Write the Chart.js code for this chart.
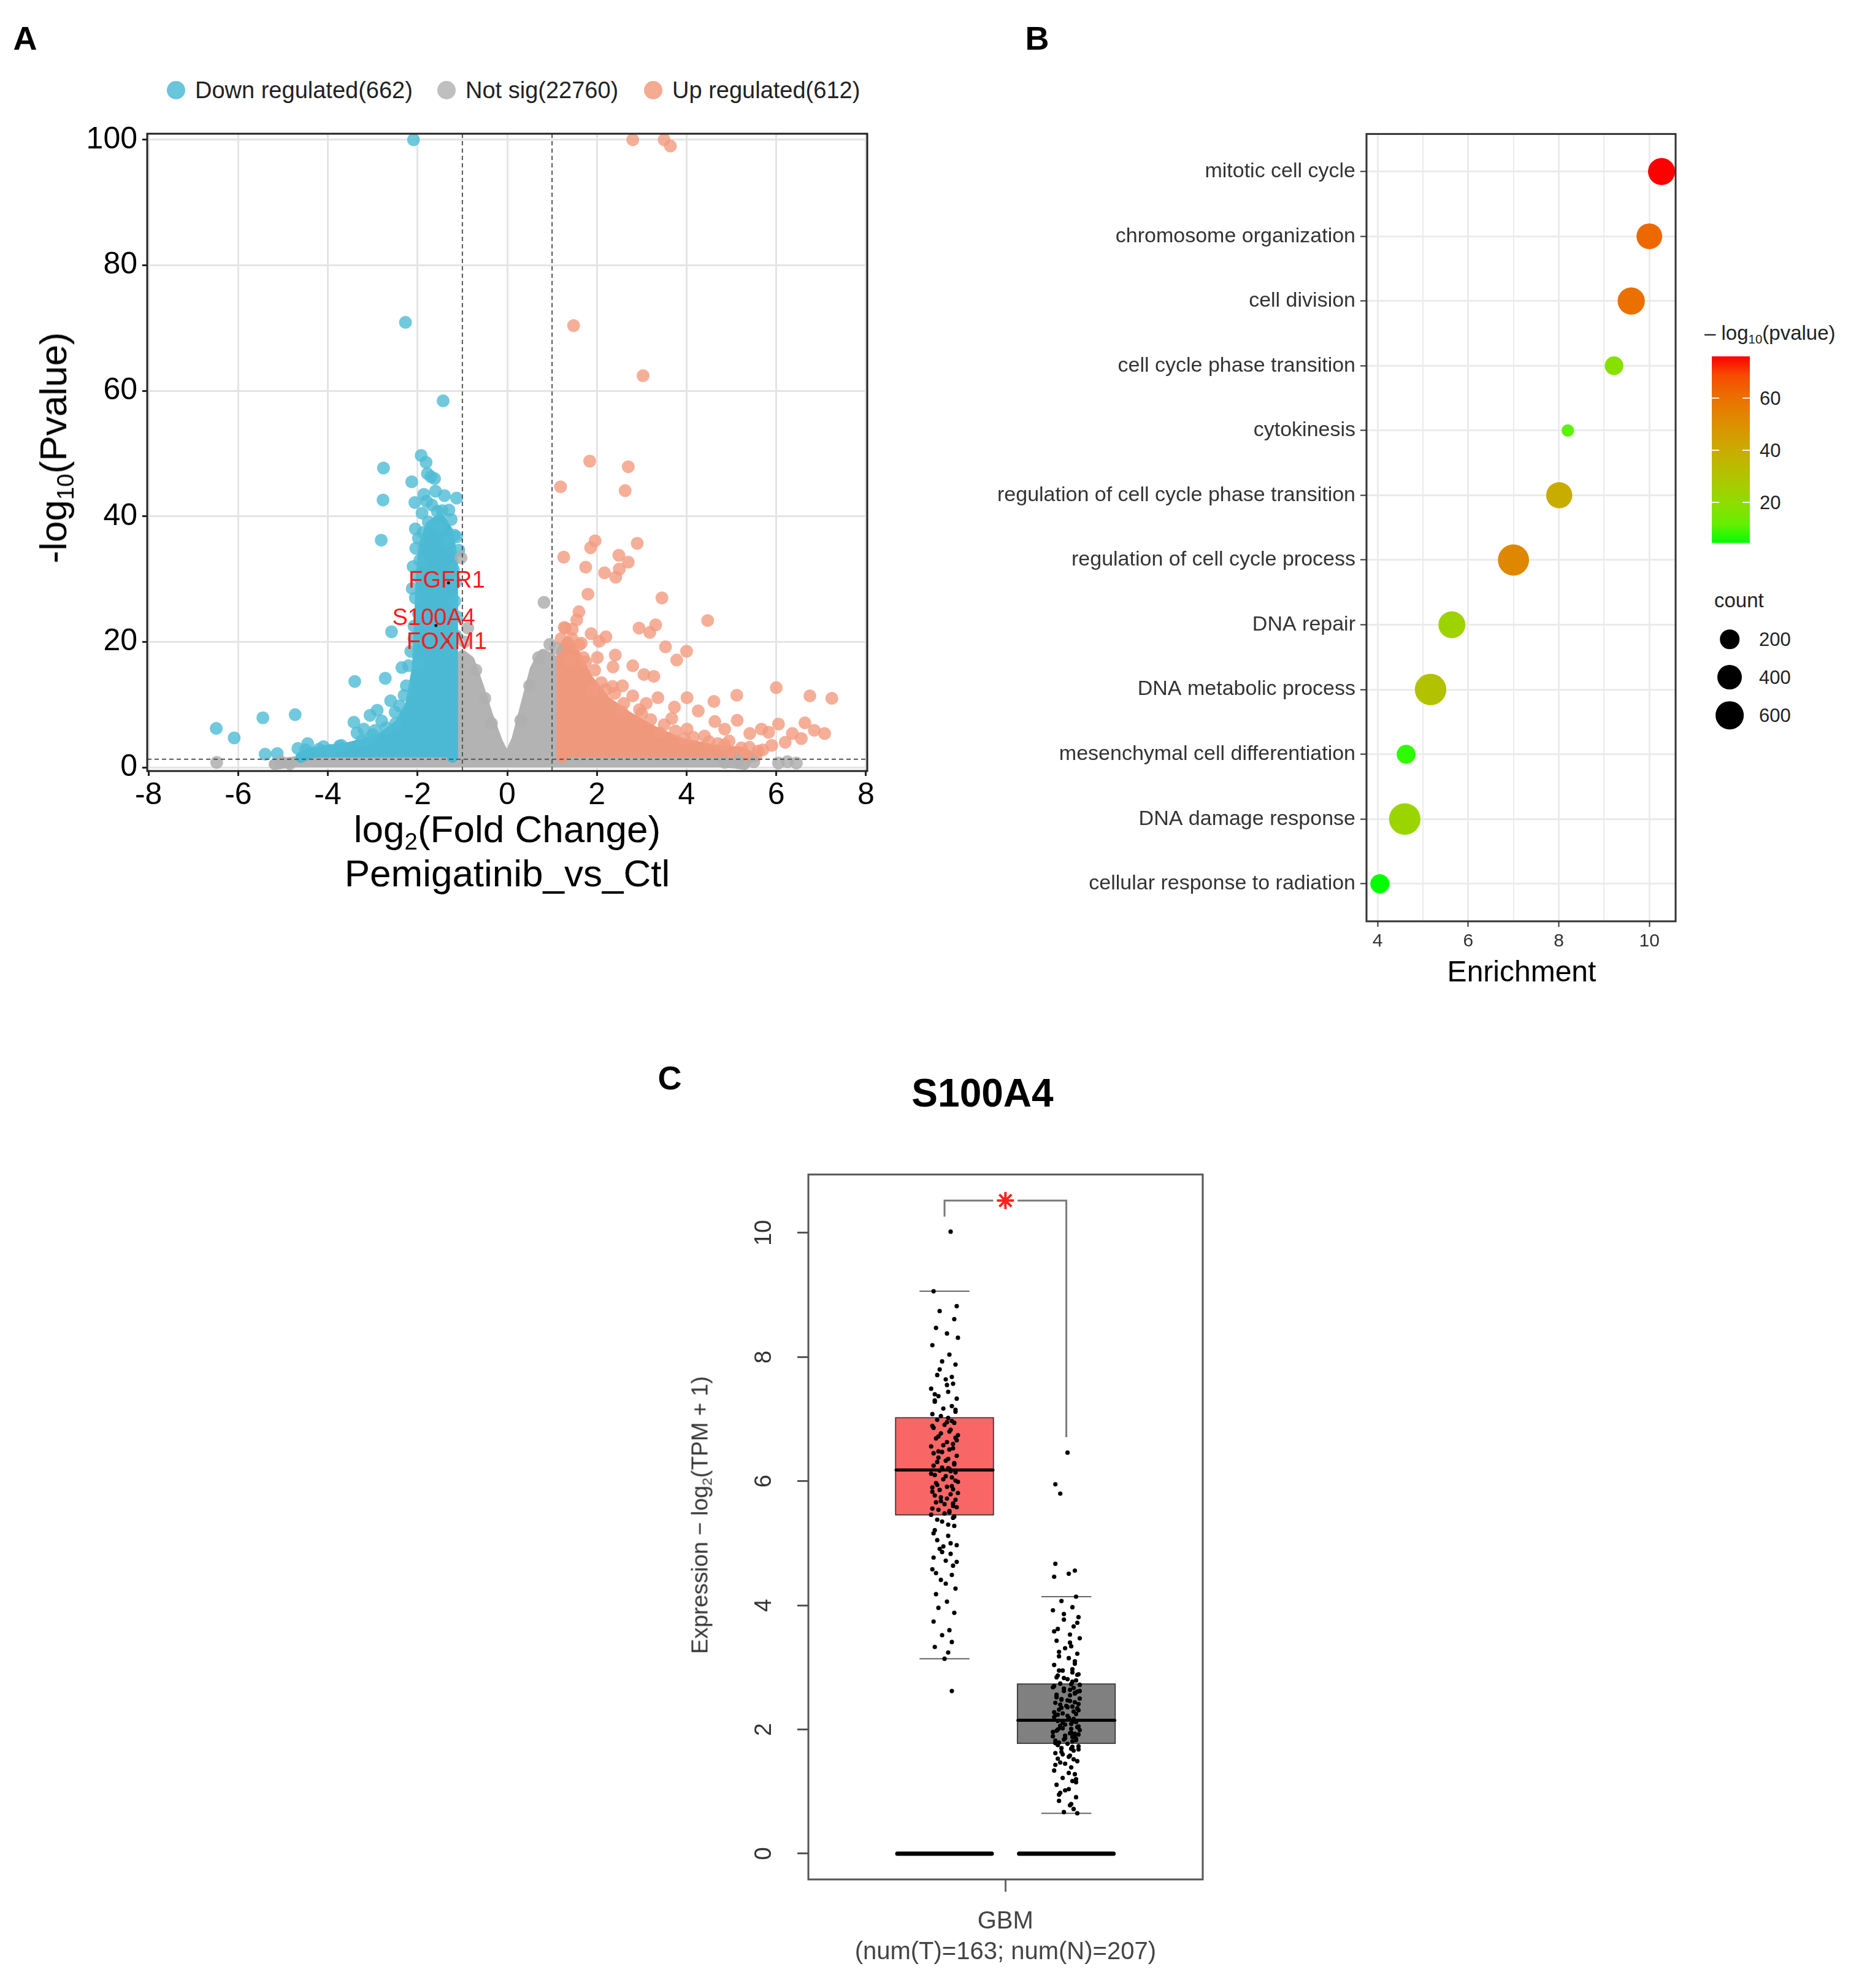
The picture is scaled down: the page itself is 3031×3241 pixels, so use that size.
<!DOCTYPE html>
<html>
<head>
<meta charset="utf-8">
<title>Pemigatinib figure</title>
<script src="https://cdn.jsdelivr.net/npm/chart.js@4.4.1/dist/chart.umd.min.js"></script>
<style>
  html, body { margin: 0; padding: 0; background: #fff; }
  body { position: relative; width: 3031px; height: 3241px; overflow: hidden;
         font-family: "Liberation Sans", Arial, sans-serif; color: #000; }
  .txt { position: absolute; white-space: nowrap; line-height: 1; }
  .mid { transform: translate(-50%, -50%); }
  .lft { transform: translate(0, -50%); }
  .rot { transform: translate(-50%, -50%) rotate(-90deg); }
  sub { font-size: 0.62em; vertical-align: -0.3em; line-height: 0; }
  canvas { position: absolute; }
  .swatch { position: absolute; border-radius: 50%; transform: translate(-50%, -50%); }
</style>
</head>
<body>
<script>
// ---- panel A: volcano plot ----
const xTicksA = [-8, -6, -4, -2, 0, 2, 4, 6, 8];
const yTicksA = [0, 20, 40, 60, 80, 100];
const fcCut = 1;
const pCut = 1.3;
const legendA = ['Down regulated(662)', 'Not sig(22760)', 'Up regulated(612)'];

// single points [log2FC, -log10 p]
const downPoints = [[-2.09,100],[-2.27,70.9],[-1.43,58.4],[-1.92,49.7],[-1.81,48.6],[-2.76,47.7],[-1.78,46.8],
  [-1.70,46.3],[-1.62,46.0],[-2.13,45.5],[-2.77,42.6],[-2.06,42.2],[-1.80,42.4],[-1.40,43.3],[-1.13,42.9],
  [-1.56,40.8],[-1.76,39.1],[-2.81,36.2],[-2.04,34.9],[-1.13,36.7],[-1.08,34.6],[-1.95,33.0],[-2.02,30.5],
  [-1.15,29.5],[-2.05,27.0],[-1.98,24.5],[-1.12,24.0],[-2.58,21.6],[-2.08,20.5],[-1.99,16.5],[-2.35,15.9],
  [-2.72,14.2],[-3.40,13.7],[-2.25,13.0],[-2.60,10.6],[-2.90,9.1],[-3.06,8.3],[-2.49,7.0],[-3.42,7.2],
  [-3.35,5.5],[-3.10,4.5],[-2.95,5.9],[-5.45,7.9],[-4.73,8.4],[-6.49,6.2],[-6.09,4.7],[-5.40,2.1],
  [-5.13,2.2],[-4.67,3.0],[-4.45,3.8],[-4.20,2.9],[-3.74,3.4],[-3.95,2.7],
  [-2.05,38.0],[-1.98,36.5],[-2.10,32.0],[-2.12,28.5],[-2.08,22.5],[-2.15,18.5],[-2.30,11.5],[-2.50,8.8],
  [-2.70,6.3],[-3.00,5.2],[-3.25,4.2],[-3.70,3.5],[-4.10,3.3],[-4.50,2.8],[-1.90,40.5],[-1.68,41.8],
  [-1.45,40.9],[-1.25,39.5],[-1.18,37.0],[-1.30,41.0],[-1.60,44.0],[-1.86,43.5],[-1.52,38.2],[-1.88,37.4],
  [-1.35,36.0],[-1.20,31.5],[-1.17,26.5],[-1.15,21.0],[-2.20,16.2],[-2.40,9.8],[-2.80,7.4],[-3.20,6.1]];
const upPoints = [[2.80,100],[3.50,100],[3.64,99.0],[1.48,70.4],[3.03,62.4],[1.84,48.8],[2.70,47.9],[1.19,44.7],
  [2.63,44.1],[1.96,36.1],[1.86,35.0],[2.90,35.7],[1.26,33.5],[2.49,33.8],[2.70,32.7],[1.75,31.9],[2.50,31.6],
  [2.17,31.0],[2.42,30.3],[1.80,27.6],[3.45,27.0],[1.60,24.8],[1.55,23.5],[4.47,23.4],[1.27,22.3],[1.45,22.0],
  [2.94,22.2],[3.31,22.7],[3.18,21.5],[1.87,21.3],[2.20,20.8],[2.05,20.1],[1.65,19.8],[3.53,19.2],[4.00,18.5],
  [3.78,17.1],[2.41,17.9],[2.01,17.5],[1.75,16.8],[2.80,16.2],[2.36,16.0],[3.27,14.5],[3.05,14.8],[2.57,13.0],
  [2.20,12.4],[2.80,11.4],[6.00,12.7],[6.75,11.4],[7.24,11.0],[5.12,11.5],[4.61,10.5],[4.01,11.1],[4.26,9.0],
  [3.73,9.6],[3.36,11.1],[3.10,10.2],[3.67,7.8],[4.63,7.3],[5.13,7.5],[6.05,6.9],[6.64,7.1],[6.85,5.9],
  [7.08,5.4],[6.36,5.4],[6.56,4.6],[5.83,5.6],[5.67,6.1],[5.41,5.4],[4.01,6.1],[4.85,6.1],[4.40,5.0],
  [4.95,4.2],[5.22,3.1],[5.32,1.9],[5.60,2.6],[4.70,3.8],[3.95,4.6],[3.40,5.5],[5.90,3.5],[6.20,4.0],[5.05,2.2],
  [1.30,22.2],[1.20,20.5],[1.45,20.5],[1.60,19.5],[1.70,17.5],[1.95,15.5],[2.10,13.5],[2.40,11.8],[2.60,10.2],
  [2.95,9.2],[3.20,7.6],[3.50,6.8],[3.75,5.8],[4.15,4.8],[4.50,4.1],[4.85,3.6],[5.40,3.2],[5.70,2.8],[5.55,1.9],
  [3.00,8.6],[2.35,12.9],[1.40,17.0],[1.90,12.2],[2.55,8.9]];
const nsPoints = [[-1.03,33.4],[-0.88,22.2],[0.82,26.3],[-6.48,0.8],[-5.05,0.9],[-4.85,0.6],[5.50,0.9],
  [4.85,0.8],[6.05,0.7],[6.25,0.9],[6.45,0.7],[5.15,1.1],
  [-0.95,20.0],[-0.70,15.5],[-0.50,11.0],[-0.35,7.0],[0.30,7.5],[0.50,13.0],[0.70,17.5],[0.95,19.6],[1.08,19.0]];

// outlines of the dense, fully overplotted clouds
const downCloud = [[-4.6,1.6],[-4.4,2.3],[-3.5,3.2],[-2.85,4.4],[-2.4,6.8],[-2.15,10],[-2.0,16],[-1.95,24],
  [-1.92,30],[-1.85,35.5],[-1.7,38.5],[-1.5,39.5],[-1.32,37.5],[-1.22,33],[-1.22,1.6]];
const upCloud = [[1.22,1.6],[1.22,18.5],[1.35,20],[1.55,17.5],[1.8,14],[2.2,10.5],[2.7,8],[3.3,5.6],
  [3.9,3.8],[4.6,2.8],[5.2,2.4],[5.45,1.6]];
const nsCloud = [[-5.2,0.5],[-4.6,1.0],[-3,1.2],[-1.2,1.3],[-1.15,15.5],[-1.0,17.8],[-0.85,17.0],[-0.65,13.0],
  [-0.45,8.5],[-0.22,4.0],[0.0,0.9],[0.22,4.5],[0.42,10.0],[0.62,15.5],[0.80,18.0],[1.0,17.2],[1.15,15.0],
  [1.2,1.3],[3,1.2],[4.7,1.0],[5.3,0.5]];

const geneNames = ['FGFR1', 'S100A4', 'FOXM1'];
const geneFC = [-1.31, -1.59, -1.33];
const geneP = [29.4, 22.6, 20.1];
const geneLabelFC = [-1.35, -1.64, -1.35];
const geneLabelP = [29.7, 23.7, 19.9];

// ---- panel B: GO enrichment ----
const goTerms = ['mitotic cell cycle', 'chromosome organization', 'cell division', 'cell cycle phase transition',
  'cytokinesis', 'regulation of cell cycle phase transition', 'regulation of cell cycle process', 'DNA repair',
  'DNA metabolic process', 'mesenchymal cell differentiation', 'DNA damage response', 'cellular response to radiation'];
const enrichment = [10.27, 10.0, 9.60, 9.22, 8.20, 8.01, 7.00, 5.64, 5.17, 4.63, 4.60, 4.05];
const geneCount = [541, 464, 548, 182, 105, 485, 817, 534, 845, 188, 845, 192];
const negLog10P = [76, 62, 60, 18, 10, 40, 53, 24, 31, 6, 23, 4.5];
const xTicksB = [4, 5, 6, 7, 8, 9, 10];
const colourTicks = [20, 40, 60];
const countTicks = [200, 400, 600];

// ---- panel C: S100A4 box plot ----
const boxGroups = ['Tumor', 'Normal'];
const boxQ1 = [5.45, 1.77];
const boxMedian = [6.18, 2.15];
const boxQ3 = [7.03, 2.74];
const whiskerLow = [3.14, 0.65];
const whiskerHigh = [9.06, 4.14];
const yTicksC = [0, 2, 4, 6, 8, 10];
const xLabelC = ['GBM', '(num(T)=163; num(N)=207)'];
const bracketTop = 10.52, bracketLeftEnd = 10.26, bracketRightEnd = 6.71;
const tumorExpr = [10.02,2.62,9.06,3.14,8.82,8.74,8.61,8.47,8.38,8.31,8.19,8.04,7.93,7.88,7.71,7.64,7.57,7.49,
  7.44,7.37,7.33,7.28,7.21,7.17,7.12,7.08,7.02,6.99,6.94,6.91,6.86,6.83,6.77,6.74,6.69,6.63,6.60,6.56,6.51,6.47,
  6.41,6.38,6.33,6.29,6.25,6.21,6.17,6.14,6.10,6.06,6.03,5.99,5.94,5.91,5.87,5.83,5.79,5.74,5.70,5.66,5.63,5.58,
  5.54,5.50,5.46,5.41,5.35,5.28,5.21,5.12,5.05,4.97,4.91,4.83,4.77,4.72,4.64,4.58,4.49,4.41,4.27,4.18,4.06,3.96,
  3.88,3.74,3.60,3.52,3.41,3.33,3.24,
  7.55,7.30,7.15,7.05,6.97,6.89,6.80,6.72,6.66,6.58,6.53,6.45,6.36,6.31,6.27,6.22,6.16,6.12,6.08,6.01,
  5.97,5.92,5.86,5.81,5.77,5.72,5.68,5.60,5.56,5.52,5.48,5.43,5.38,5.30,5.16,5.00,4.86,4.70,4.52,4.35,
  7.80,7.68,7.40,6.95,6.70,6.48,6.20,5.90,5.64,4.95];
const tumorJitter = [0.05,0.06,-0.09,0.0,0.10,-0.04,0.08,-0.07,0.02,0.11,-0.10,0.04,-0.02,0.09,-0.06,0.01,0.07,
  -0.11,0.03,-0.05,0.10,-0.08,0.06,-0.01,0.09,-0.10,0.03,-0.06,0.08,0.00,-0.09,0.05,-0.03,0.11,-0.07,0.02,0.07,
  -0.11,0.04,-0.02,0.10,-0.05,0.01,0.08,-0.09,0.03,-0.04,0.09,-0.08,0.06,-0.01,0.11,-0.06,0.02,0.07,-0.10,0.05,
  -0.03,0.09,-0.07,0.00,0.10,-0.05,0.04,-0.11,0.07,-0.02,0.08,-0.08,0.03,-0.06,0.10,-0.04,0.05,-0.09,0.01,0.07,
  -0.10,0.06,-0.03,0.09,-0.07,0.02,-0.05,0.08,-0.09,0.04,-0.02,0.06,-0.08,0.03,
  0.02,-0.08,0.09,-0.03,0.06,-0.10,0.04,-0.05,0.10,-0.01,0.07,-0.09,0.03,-0.06,0.08,-0.02,0.05,-0.11,0.01,0.09,
  -0.07,0.06,-0.04,0.11,-0.08,0.02,-0.03,0.07,-0.10,0.04,0.00,0.08,-0.06,0.03,-0.09,0.05,-0.02,0.10,-0.07,0.01,
  -0.04,0.06,-0.08,0.02,0.09,-0.05,0.04,-0.10,0.07,-0.01];
const normalExpr = [6.46,5.95,5.80,4.67,4.56,4.51,4.46,4.14,4.07,3.97,3.92,3.81,3.77,3.66,3.62,3.53,3.47,3.43,
  3.34,3.31,3.22,3.18,3.15,3.06,3.04,2.97,2.95,2.89,2.87,2.81,2.79,2.74,2.73,2.68,2.67,2.62,2.61,2.56,2.55,2.50,
  2.49,2.44,2.43,2.38,2.37,2.32,2.31,2.26,2.25,2.20,2.19,2.15,2.14,2.09,2.08,2.04,2.03,1.99,1.98,1.94,1.93,1.89,
  1.88,1.84,1.83,1.79,1.77,1.73,1.70,1.66,1.62,1.58,1.53,1.49,1.45,1.39,1.34,1.28,1.22,1.17,1.11,1.04,0.98,0.91,
  0.85,0.78,0.72,0.67,0.65,
  2.95,2.88,2.83,2.77,2.70,2.64,2.59,2.53,2.47,2.41,2.35,2.29,2.23,2.18,2.12,2.06,2.01,1.96,1.91,1.86,
  1.81,1.75,1.68,1.60,1.52,1.43,1.30,1.15,0.95,0.80,2.72,2.66,2.58,2.52,2.46,2.40,2.34,2.28,2.22,2.17,
  2.11,2.05,2.00,1.95,1.90,1.85,1.78,1.72,1.64,1.56,3.10,3.25,3.40,3.58,3.72,3.86,2.92,2.84,2.62,2.48,
  2.36,2.24,2.13,2.02,1.92,1.82,1.69,1.47,1.20,1.02];
const normalJitter = [0.01,-0.09,-0.05,-0.09,0.07,0.02,-0.10,0.08,-0.04,0.05,-0.11,0.10,-0.02,0.06,-0.07,0.03,
  0.11,-0.08,0.04,-0.01,0.09,-0.06,0.02,0.07,-0.10,0.05,-0.03,0.10,-0.07,0.01,0.08,-0.05,0.04,-0.11,0.06,-0.02,
  0.09,-0.08,0.03,0.11,-0.04,0.07,-0.09,0.00,0.05,-0.06,0.10,-0.03,0.08,-0.10,0.02,0.06,-0.07,0.04,-0.01,0.09,
  -0.05,0.11,-0.08,0.03,0.07,-0.11,0.05,-0.02,0.08,-0.06,0.01,0.10,-0.04,0.06,-0.09,0.03,-0.07,0.09,-0.01,0.04,
  -0.10,0.07,-0.03,0.05,-0.08,0.02,-0.05,0.08,-0.06,0.03,0.06,-0.02,0.09,
  -0.06,0.09,-0.02,0.05,-0.10,0.03,0.07,-0.08,0.01,0.10,-0.04,0.06,-0.09,0.02,0.08,-0.05,0.04,-0.11,0.07,-0.01,
  0.05,-0.07,0.10,-0.03,0.06,-0.09,0.02,0.08,-0.06,0.04,0.11,-0.02,0.07,-0.08,0.03,-0.05,0.09,-0.10,0.01,0.06,
  -0.03,0.10,-0.07,0.04,-0.01,0.08,-0.09,0.05,-0.04,0.02,0.07,-0.06,0.03,-0.10,0.09,-0.02,0.05,-0.08,0.11,-0.04,
  0.01,-0.07,0.06,-0.03,0.10,-0.09,0.04,-0.05,0.08,-0.01];

// ---- helpers ----
Chart.defaults.font.family = '"Liberation Sans", Arial, sans-serif';
const FONT = '"Liberation Sans", Arial, sans-serif';

function canvasAt(left, top, w, h) {
  const c = document.createElement('canvas');
  c.width = w; c.height = h;
  c.style.left = left + 'px'; c.style.top = top + 'px';
  c.style.width = w + 'px'; c.style.height = h + 'px';
  document.body.appendChild(c);
  return c;
}
function text(html, x, y, cls, css) {
  const d = document.createElement('div');
  d.className = 'txt ' + cls;
  d.innerHTML = html;
  d.style.left = x + 'px'; d.style.top = y + 'px';
  Object.assign(d.style, css || {});
  document.body.appendChild(d);
  return d;
}
function swatch(x, y, r, color) {
  const d = document.createElement('div');
  d.className = 'swatch';
  Object.assign(d.style, { left: x + 'px', top: y + 'px', width: 2 * r + 'px', height: 2 * r + 'px', background: color });
  document.body.appendChild(d);
}
const pts = arr => arr.map(p => ({ x: p[0], y: p[1] }));

const framePlugin = {
  id: 'frame',
  afterDatasetsDraw(chart, args, opts) {
    const a = chart.chartArea, ctx = chart.ctx;
    ctx.save();
    ctx.strokeStyle = opts.color || '#000';
    ctx.lineWidth = opts.width || 2;
    ctx.strokeRect(a.left, a.top, a.right - a.left, a.bottom - a.top);
    ctx.restore();
  }
};

// ================= A =================
const blueDot = 'rgba(77,187,213,0.8)', blueDense = 'rgb(76,185,212)';
const salmonDot = 'rgba(243,155,127,0.8)', salmonDense = 'rgb(240,152,124)';
const greyDot = 'rgba(175,175,175,0.85)', greyDense = 'rgb(179,179,179)';

const geneLabelPlugin = {
  id: 'geneLabels',
  afterDatasetsDraw(chart) {
    const { ctx, scales: { x, y } } = chart;
    ctx.save();
    ctx.fillStyle = '#ff1a1a';
    ctx.font = '38px ' + FONT;
    ctx.textAlign = 'center';
    ctx.textBaseline = 'middle';
    geneNames.forEach((g, i) => ctx.fillText(g, x.getPixelForValue(geneLabelFC[i]), y.getPixelForValue(geneLabelP[i])));
    ctx.restore();
  }
};

const cloud = (arr, color, base) => ({
  type: 'line', data: pts(arr), borderColor: color, backgroundColor: color, borderWidth: 18,
  borderJoinStyle: 'round', borderCapStyle: 'round', pointRadius: 0, fill: { value: base }, tension: 0
});
const dots = (arr, color, r) => ({
  type: 'scatter', data: pts(arr), backgroundColor: color, borderWidth: 0, pointRadius: r, pointHoverRadius: r
});
const vline = (xv, y0, y1) => ({
  type: 'line', data: [{ x: xv, y: y0 }, { x: xv, y: y1 }], borderColor: '#555', borderWidth: 2,
  borderDash: [7, 5], pointRadius: 0, fill: false
});

const yMinA = -0.58, yMaxA = 100.96;
new Chart(canvasAt(100, 180, 1340, 1200), {
  type: 'scatter',
  data: {
    datasets: [
      dots(geneNames.map((g, i) => [geneFC[i], geneP[i]]), '#111', 2.5),
      vline(-fcCut, yMinA, yMaxA),
      vline(fcCut, yMinA, yMaxA),
      { type: 'line', data: [{ x: -8.03, y: pCut }, { x: 8.03, y: pCut }], borderColor: '#555', borderWidth: 2,
        borderDash: [7, 5], pointRadius: 0, fill: false },
      dots(nsPoints, greyDot, 10.5),
      dots(downPoints, blueDot, 10.5),
      dots(upPoints, salmonDot, 10.5),
      cloud(downCloud, blueDense, 1.6),
      cloud(upCloud, salmonDense, 1.6),
      cloud(nsCloud, greyDense, 0)
    ]
  },
  options: {
    responsive: false, animation: false, events: [],
    layout: { padding: { top: 23, right: 26, left: 0, bottom: 0 } },
    plugins: { legend: { display: false }, tooltip: { enabled: false }, frame: { color: '#222', width: 3 } },
    scales: {
      x: {
        type: 'linear', min: -8.03, max: 8.03,
        afterBuildTicks: s => { s.ticks = xTicksA.map(v => ({ value: v })); },
        afterFit: s => { s.height = 123; },
        grid: { color: '#e4e4e4', lineWidth: 3, tickColor: '#222', tickLength: 8, tickWidth: 3 },
        border: { display: false },
        ticks: { font: { size: 50 }, color: '#000', padding: 2, maxRotation: 0, autoSkip: false }
      },
      y: {
        type: 'linear', min: yMinA, max: yMaxA,
        afterBuildTicks: s => { s.ticks = yTicksA.map(v => ({ value: v })); },
        afterFit: s => { s.width = 140; },
        grid: { color: '#e4e4e4', lineWidth: 3, tickColor: '#222', tickLength: 8, tickWidth: 3 },
        border: { display: false },
        ticks: { font: { size: 50 }, color: '#000', padding: 8, autoSkip: false }
      }
    }
  },
  plugins: [framePlugin, geneLabelPlugin]
});

// legend and titles for A
const legendColoursA = ['rgba(77,187,213,0.85)', 'rgba(180,180,180,0.85)', 'rgba(243,155,127,0.85)'];
const legendXA = [287, 728, 1065];
legendA.forEach((t, i) => {
  swatch(legendXA[i], 147, 15, legendColoursA[i]);
  text(t, legendXA[i] + 31, 147, 'lft', { fontSize: '38px', color: '#222' });
});
text('-log<sub>10</sub>(Pvalue)', 87, 730, 'rot', { fontSize: '62px' });
text('log<sub>2</sub>(Fold Change)', 827, 1352, 'mid', { fontSize: '62px' });
text('Pemigatinib_vs_Ctl', 827, 1424, 'mid', { fontSize: '62px' });

// ================= B =================
function srgb2lin(c) { c /= 255; return c <= 0.04045 ? c / 12.92 : Math.pow((c + 0.055) / 1.055, 2.4); }
function lin2srgb(c) {
  c = c <= 0.0031308 ? 12.92 * c : 1.055 * Math.pow(c, 1 / 2.4) - 0.055;
  return Math.round(Math.max(0, Math.min(1, c)) * 255);
}
function rgbToLab(rgb) {
  const [r, g, b] = rgb.map(srgb2lin);
  const X = (0.4124 * r + 0.3576 * g + 0.1805 * b) / 0.95047;
  const Y = 0.2126 * r + 0.7152 * g + 0.0722 * b;
  const Z = (0.0193 * r + 0.1192 * g + 0.9505 * b) / 1.08883;
  const f = t => t > 0.008856 ? Math.cbrt(t) : 7.787 * t + 16 / 116;
  return [116 * f(Y) - 16, 500 * (f(X) - f(Y)), 200 * (f(Y) - f(Z))];
}
function labToRgb(lab) {
  const fy = (lab[0] + 16) / 116, fx = fy + lab[1] / 500, fz = fy - lab[2] / 200;
  const inv = t => t * t * t > 0.008856 ? t * t * t : (t - 16 / 116) / 7.787;
  const X = inv(fx) * 0.95047, Y = inv(fy), Z = inv(fz) * 1.08883;
  const r = 3.2406 * X - 1.5372 * Y - 0.4986 * Z;
  const g = -0.9689 * X + 1.8758 * Y + 0.0415 * Z;
  const b = 0.0557 * X - 0.2040 * Y + 1.0570 * Z;
  return [lin2srgb(r), lin2srgb(g), lin2srgb(b)];
}
const lowLab = rgbToLab([0, 255, 0]), highLab = rgbToLab([255, 0, 0]);
const pMin = Math.min(...negLog10P), pMax = Math.max(...negLog10P);
function colourAt(t) {
  const lab = lowLab.map((v, k) => v + (highLab[k] - v) * t);
  const c = labToRgb(lab);
  return 'rgb(' + c.join(',') + ')';
}
const colourFor = v => colourAt((v - pMin) / (pMax - pMin));
const cMin = Math.min(...geneCount), cMax = Math.max(...geneCount);
const radiusFor = c => 10.2 + 15.5 * Math.sqrt(Math.max(0, c - cMin) / (cMax - cMin));

new Chart(canvasAt(1580, 190, 1180, 1420), {
  type: 'bubble',
  data: {
    datasets: [{
      data: goTerms.map((t, i) => ({ x: enrichment[i], y: i, r: radiusFor(geneCount[i]) })),
      backgroundColor: negLog10P.map(colourFor), borderWidth: 0
    }]
  },
  options: {
    responsive: false, animation: false, events: [],
    layout: { padding: { top: 22, right: 28, left: 0, bottom: 0 } },
    plugins: { legend: { display: false }, tooltip: { enabled: false }, frame: { color: '#333', width: 3 } },
    scales: {
      x: {
        type: 'linear', min: 3.755, max: 10.58,
        afterBuildTicks: s => { s.ticks = xTicksB.map(v => ({ value: v })); },
        afterFit: s => { s.height = 108; },
        grid: {
          color: '#ebebeb',
          lineWidth: c => (c.tick && c.tick.value % 2 === 0) ? 3 : 2,
          tickColor: c => (c.tick && c.tick.value % 2 === 0) ? '#333' : 'rgba(0,0,0,0)',
          tickLength: 9, tickWidth: 2
        },
        border: { display: false },
        ticks: { font: { size: 30 }, color: '#333', padding: 6, maxRotation: 0, autoSkip: false,
                 callback: v => (v % 2 === 0 ? String(v) : '') }
      },
      y: {
        type: 'linear', reverse: true, min: -0.58, max: 11.58,
        afterBuildTicks: s => { s.ticks = goTerms.map((t, i) => ({ value: i })); },
        afterFit: s => { s.width = 648; },
        grid: { color: '#ebebeb', lineWidth: 3, tickColor: '#333', tickLength: 10, tickWidth: 2 },
        border: { display: false },
        ticks: { font: { size: 34 }, color: '#333', padding: 8, autoSkip: false, callback: v => goTerms[v] }
      }
    }
  },
  plugins: [framePlugin]
});

text('Enrichment', 2481, 1584, 'mid', { fontSize: '48px' });

// colour bar legend
const barLeft = 2791, barTop = 581, barW = 62, barH = 304;
text('– log<sub>10</sub>(pvalue)', 2779, 542, 'lft', { fontSize: '33px', color: '#222' });
const stops = [];
for (let k = 0; k <= 10; k++) stops.push(colourAt(1 - k / 10) + ' ' + (k * 10) + '%');
const bar = document.createElement('div');
Object.assign(bar.style, { position: 'absolute', left: barLeft + 'px', top: barTop + 'px', width: barW + 'px',
  height: barH + 'px', background: 'linear-gradient(to bottom, ' + stops.join(', ') + ')' });
document.body.appendChild(bar);
colourTicks.forEach(v => {
  const y = barTop + (pMax - v) / (pMax - pMin) * barH;
  [0, barW - 12].forEach(dx => {
    const t = document.createElement('div');
    Object.assign(t.style, { position: 'absolute', left: (barLeft + dx) + 'px', top: (y - 1) + 'px',
      width: '12px', height: '2px', background: 'rgba(255,255,255,0.9)' });
    document.body.appendChild(t);
  });
  text(String(v), barLeft + barW + 16, y, 'lft', { fontSize: '31px', color: '#222' });
});

// size legend
text('count', 2795, 978, 'lft', { fontSize: '33px', color: '#222' });
const countY = [1042, 1104, 1166];
countTicks.forEach((c, i) => {
  swatch(2820, countY[i], radiusFor(c), '#000');
  text(String(c), 2868, countY[i], 'lft', { fontSize: '31px', color: '#222' });
});

// ================= C =================
const BOX_DS = 3;
const boxDetailPlugin = {
  id: 'boxDetail',
  afterDatasetDraw(chart, args) {
    if (args.index !== BOX_DS) return;
    const { ctx, scales: { x, y } } = chart;
    const seg = (x0, x1, yv, color, w) => {
      const py = y.getPixelForValue(yv);
      ctx.beginPath(); ctx.strokeStyle = color; ctx.lineWidth = w;
      ctx.moveTo(x0, py); ctx.lineTo(x1, py); ctx.stroke();
    };
    ctx.save();
    ctx.lineCap = 'round';
    boxGroups.forEach((g, i) => {
      const cx = x.getPixelForValue(i + 1);
      seg(cx - 79, cx + 79, boxMedian[i], '#000', 5);
      seg(cx - 40, cx + 40, whiskerHigh[i], '#666', 2);
      seg(cx - 40, cx + 40, whiskerLow[i], '#666', 2);
      seg(cx - 77, cx + 77, 0, '#000', 7);
    });
    ctx.restore();
  }
};

const jitter = tumorExpr.map((v, i) => ({ x: 1 + (tumorJitter[i] || 0), y: v }))
  .concat(normalExpr.map((v, i) => ({ x: 2 + (normalJitter[i] || 0), y: v })));

new Chart(canvasAt(1150, 1860, 840, 1370), {
  type: 'scatter',
  data: {
    datasets: [
      { type: 'scatter', data: jitter, backgroundColor: '#000', borderWidth: 0, pointRadius: 3.6 },
      { type: 'line', data: [{ x: 1, y: bracketLeftEnd }, { x: 1, y: bracketTop }, { x: 1.4, y: bracketTop },
          { x: 1.5, y: null }, { x: 1.6, y: bracketTop }, { x: 2, y: bracketTop }, { x: 2, y: bracketRightEnd }],
        borderColor: '#7a7a7a', borderWidth: 3, pointRadius: 0, fill: false, spanGaps: false },
      { type: 'scatter', data: [{ x: 1.5, y: bracketTop }], pointStyle: 'star', pointRadius: 14,
        borderColor: '#ff2020', backgroundColor: '#ff2020', borderWidth: 4 },
      { type: 'bar', data: boxGroups.map((g, i) => ({ x: i + 1, y: [boxQ1[i], boxQ3[i]] })),
        backgroundColor: ['rgb(249,102,102)', 'rgb(128,128,128)'], borderColor: '#3a3a3a', borderWidth: 2,
        borderSkipped: false, barThickness: 161 }
    ]
  },
  options: {
    responsive: false, animation: false, events: [],
    layout: { padding: { top: 20, right: 29, left: 0, bottom: 0 } },
    plugins: { legend: { display: false }, tooltip: { enabled: false }, frame: { color: '#555', width: 3 } },
    scales: {
      x: {
        type: 'linear', min: -0.118, max: 3.12, offset: false,
        afterBuildTicks: s => { s.ticks = [{ value: 1.5 }]; },
        afterFit: s => { s.height = 166; },
        grid: { offset: false, drawOnChartArea: false, tickColor: '#666', tickLength: 20, tickWidth: 3 },
        border: { display: false },
        ticks: { font: { size: 40, lineHeight: 1.25 }, color: '#444', padding: 24, maxRotation: 0,
                 autoSkip: false, callback: () => xLabelC }
      },
      y: {
        type: 'linear', min: -0.415, max: 10.94,
        afterBuildTicks: s => { s.ticks = yTicksC.map(v => ({ value: v })); },
        afterFit: s => { s.width = 168; },
        grid: { drawOnChartArea: false, tickColor: '#555', tickLength: 18, tickWidth: 3 },
        border: { display: false },
        ticks: { font: { size: 38 }, color: '#333', padding: 32, minRotation: 90, maxRotation: 90,
                 crossAlign: 'center', autoSkip: false }
      }
    }
  },
  plugins: [framePlugin, boxDetailPlugin]
});

text('S100A4', 1602, 1782, 'mid', { fontSize: '64px', fontWeight: 'bold' });
text('Expression − log<sub>2</sub>(TPM + 1)', 1141, 2470, 'rot', { fontSize: '37px', color: '#333' });

// panel letters
text('A', 41, 62, 'mid', { fontSize: '54px', fontWeight: 'bold' });
text('B', 1691, 62, 'mid', { fontSize: '54px', fontWeight: 'bold' });
text('C', 1092, 1757, 'mid', { fontSize: '54px', fontWeight: 'bold' });
</script>
</body>
</html>
